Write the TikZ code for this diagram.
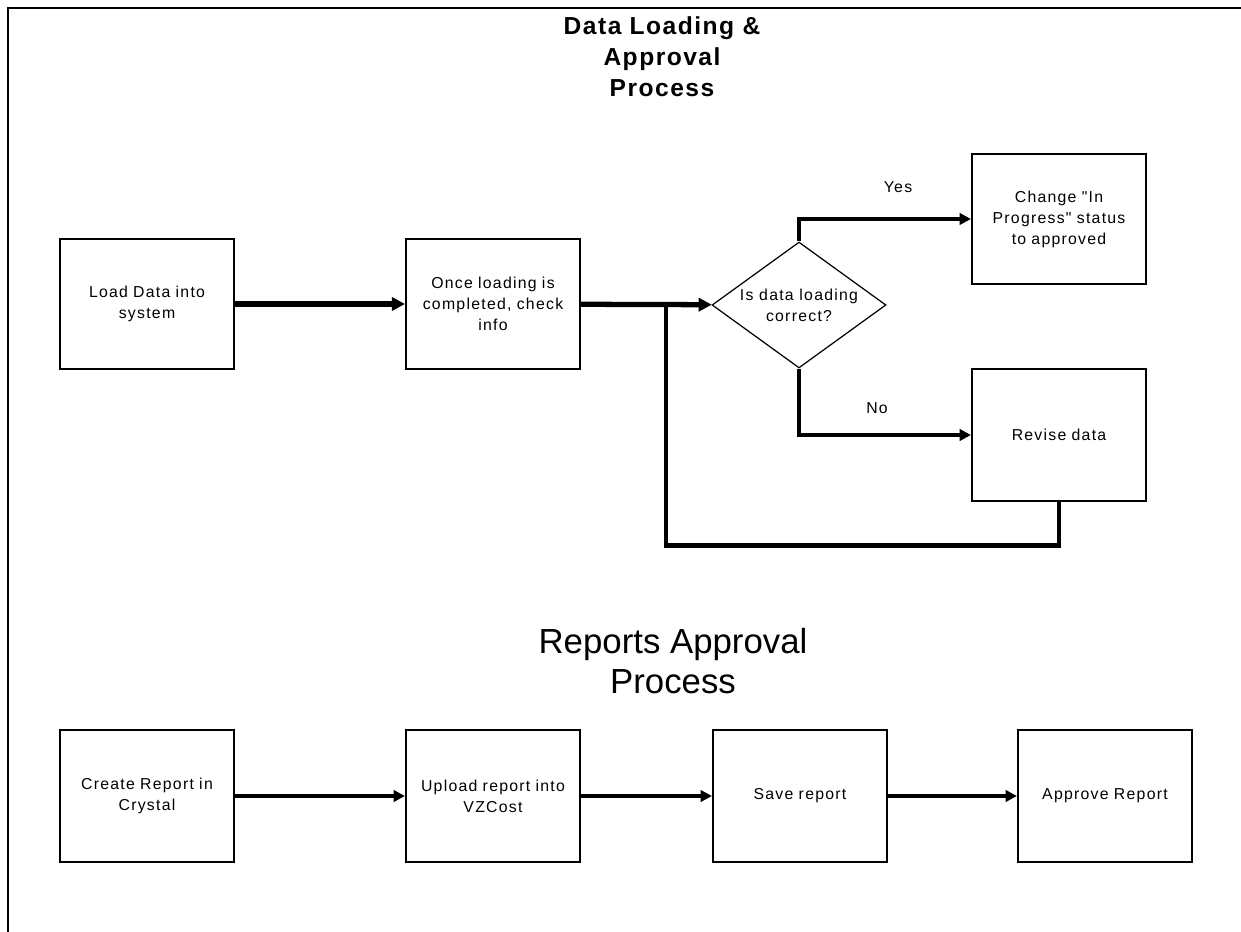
\documentclass[tikz,border=0pt]{standalone}
\usepackage{fontspec}
\setmainfont{Liberation Sans}
\newfontfamily\boxfont{Liberation Sans}[LetterSpace=8]
\newfontfamily\headfont{Liberation Sans}[LetterSpace=6]
\usepackage{tikz}
\usetikzlibrary{shapes.geometric, arrows.meta, positioning}
\tikzstyle{arrow} = [line width=3pt,-{Triangle[length=7.5pt,width=7.5pt]}]
\tikzstyle{link} = [line width=2.1pt,-{Triangle[length=6.5pt,width=6.5pt]}]
\tikzstyle{loopline} = [line width=2.8pt]
\tikzstyle{block} = [rectangle, draw, line width=1.2pt, text width=3.2cm, text centered, minimum width=3.48cm, minimum height=2.6cm, font={\boxfont\fontsize{9}{12}\selectfont}]
\tikzstyle{decision} = [diamond, draw, line width=0.7pt, aspect=1.38, minimum width=3.48cm, minimum height=2.52cm, inner sep=-2pt, font={\boxfont\fontsize{9}{12}\selectfont}]
\tikzset{every node/.style={align=center}}

\begin{document}
\begin{tikzpicture}[x=0.02cm, y=-0.02cm]
    \useasboundingbox (0,0) rectangle (1241,932);
    \draw [line width=1.2pt] (8,932) -- (8,8) -- (1241,8);

    % data loading
    \node (head1) [font={\headfont\bfseries\fontsize{14}{17.6}\selectfont}] at (662,57) {Data Loading \&\\Approval\\Process};
    \node (load) [block] at (147,304) {Load Data into\\system};
    \node (check) [block] at (493,304) {Once loading is\\completed, check\\info};
    \node (dec) [decision] at (799,305) {Is data loading\\correct?};
    \node (chg) [block] at (1059,219) {Change "In\\Progress" status\\to approved};
    \node (rev) [block, minimum height=2.64cm] at (1059,435) {Revise data};
    \node (yes) [font={\boxfont\fontsize{9}{12}\selectfont}] at (898,187) {Yes};
    \node (no) [font={\boxfont\fontsize{9}{12}\selectfont}] at (877,408) {No};
    \coordinate (merge) at (666,305);

    \draw [arrow] (load) -- (check);
    \draw [arrow] (check) -- (dec);
    \draw [link] (dec.north) |- (chg);
    \draw [link] (dec.south) |- (rev);
    \draw [loopline] (rev.south) -- ++(0,43) -| (merge);

    % reports
    \node (head2) [font={\fontsize{19.8}{22.7}\selectfont}] at (673,661) {Reports Approval\\Process};
    \node (create) [block, minimum height=2.64cm] at (147,796) {Create Report in\\Crystal};
    \node (upload) [block, minimum height=2.64cm] at (493,796) {Upload report into\\VZCost};
    \node (save) [block, minimum height=2.64cm] at (800,796) {Save report};
    \node (appr) [block, minimum height=2.64cm] at (1105,796) {Approve Report};

    \draw [link] (create) -- (upload);
    \draw [link] (upload) -- (save);
    \draw [link] (save) -- (appr);
\end{tikzpicture}
\end{document}
